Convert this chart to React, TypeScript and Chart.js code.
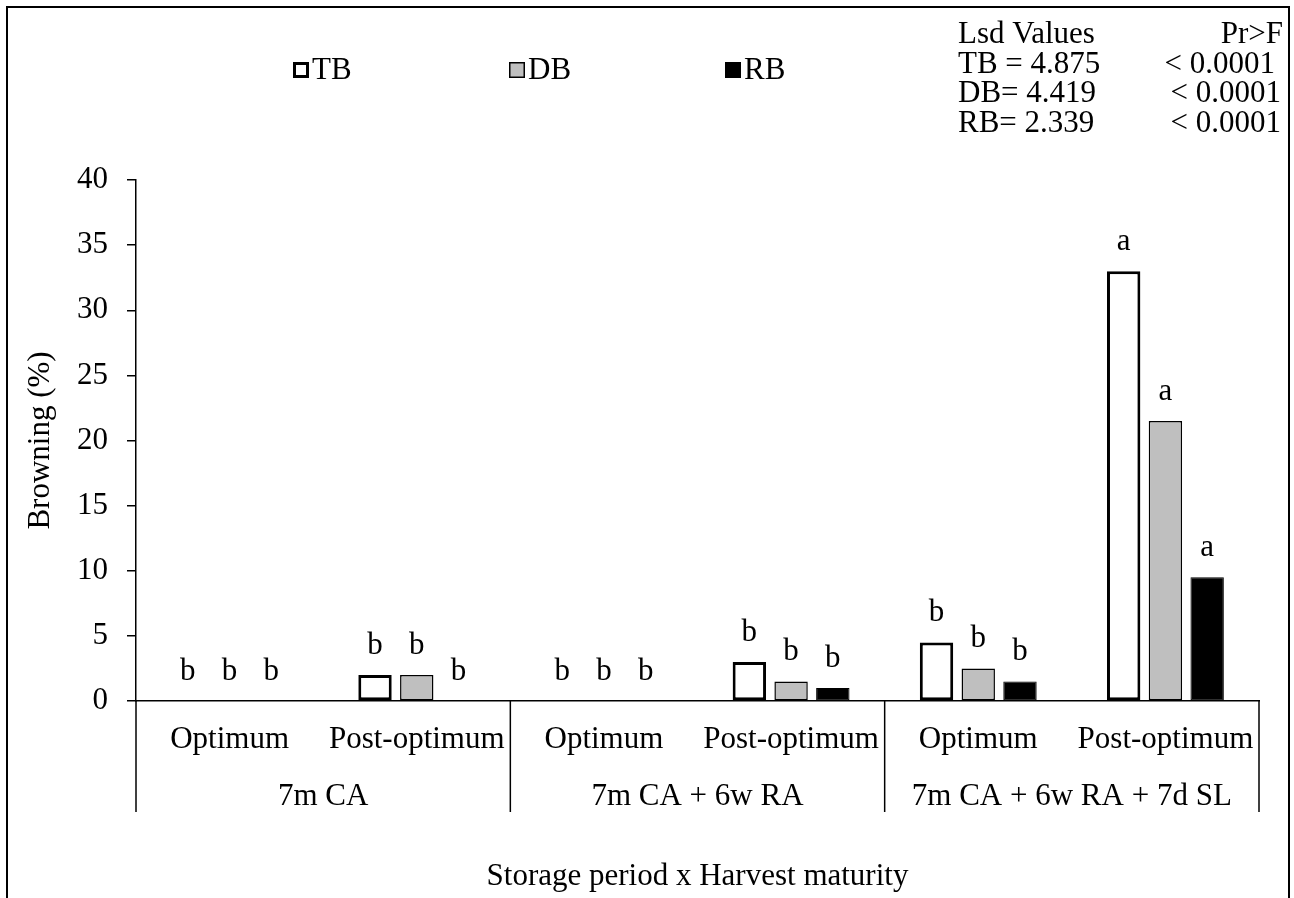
import React, { useEffect, useRef } from 'react';
import { Chart, registerables } from 'chart.js';

Chart.register(...registerables);

// ---- data ----
const categories = ['Optimum', 'Post-optimum', 'Optimum', 'Post-optimum', 'Optimum', 'Post-optimum'];
const groups = ['7m CA', '7m CA + 6w RA', '7m CA + 6w RA + 7d SL'];
const seriesNames = ['TB', 'DB', 'RB'];
const tbValues = [0, 2, 0, 3, 4.5, 33];
const dbValues = [0, 2, 0, 1.5, 2.5, 21.5];
const rbValues = [0, 0, 0, 1, 1.5, 9.5];
const tbLetters = ['b', 'b', 'b', 'b', 'b', 'a'];
const dbLetters = ['b', 'b', 'b', 'b', 'b', 'a'];
const rbLetters = ['b', 'b', 'b', 'b', 'b', 'a'];
const lsdHeader = ['Lsd Values', 'Pr>F'];
const lsdLabels = ['TB = 4.875', 'DB= 4.419', 'RB= 2.339'];
const pValues = ['< 0.0001', '< 0.0001', '< 0.0001'];
const yTitle = 'Browning (%)';
const xTitle = 'Storage period x Harvest maturity';

const FONT = '"Liberation Serif", "Times New Roman", serif';
const FS = 31;

const fills = ['#ffffff', '#bfbfbf', '#000000'];
const borders = [3, 1.5, 1];
const lettersBySeries = [tbLetters, dbLetters, rbLetters];

export default function App() {
  const ref = useRef<HTMLCanvasElement>(null);

  useEffect(() => {
    const canvas = ref.current;
    if (!canvas) return;

    const overlay = {
      id: 'overlay',
      afterDraw(chart: any) {
        const ctx = chart.ctx as CanvasRenderingContext2D;
        const area = chart.chartArea;
        const xs = chart.scales.x;
        ctx.save();
        ctx.fillStyle = '#000';
        ctx.strokeStyle = '#000';
        ctx.font = `${FS}px ${FONT}`;

        // outer frame
        ctx.lineWidth = 2;
        ctx.beginPath();
        ctx.moveTo(7, 898);
        ctx.lineTo(7, 7);
        ctx.lineTo(1289, 7);
        ctx.lineTo(1289, 898);
        ctx.stroke();

        // letters above bars
        ctx.textAlign = 'center';
        ctx.textBaseline = 'alphabetic';
        chart.data.datasets.forEach((_: any, di: number) => {
          const meta = chart.getDatasetMeta(di);
          meta.data.forEach((el: any, i: number) => {
            ctx.fillText(lettersBySeries[di][i], el.x, el.y - 21);
          });
        });

        // group separators + extended y axis
        const sepBottom = area.bottom + 111;
        ctx.lineWidth = 1.5;
        const bounds: number[] = [area.left];
        for (let g = 0; g < groups.length; g++) {
          const lastIdx = g * 2 + 1;
          const b = lastIdx < categories.length - 1
            ? (xs.getPixelForValue(lastIdx) + xs.getPixelForValue(lastIdx + 1)) / 2
            : area.right;
          bounds.push(b);
        }
        bounds.forEach((bx) => {
          ctx.beginPath();
          ctx.moveTo(bx, area.bottom);
          ctx.lineTo(bx, sepBottom);
          ctx.stroke();
        });

        // category labels
        categories.forEach((c, i) => {
          ctx.fillText(c, xs.getPixelForValue(i), area.bottom + 47);
        });
        // group labels
        groups.forEach((g, gi) => {
          ctx.fillText(g, (bounds[gi] + bounds[gi + 1]) / 2, area.bottom + 104);
        });
        // x title
        ctx.fillText(xTitle, (area.left + area.right) / 2, area.bottom + 184);

        // y title
        ctx.save();
        ctx.translate(49, (area.top + area.bottom) / 2);
        ctx.rotate(-Math.PI / 2);
        ctx.textAlign = 'center';
        ctx.fillText(yTitle, 0, 0);
        ctx.restore();

        // legend
        const legX = 293;
        const legPitch = 216;
        seriesNames.forEach((n, i) => {
          const bx = legX + i * legPitch;
          const by = 62;
          const sz = 16;
          ctx.fillStyle = fills[i];
          ctx.fillRect(bx, by, sz, sz);
          ctx.lineWidth = borders[i];
          ctx.strokeStyle = '#000';
          const h = borders[i] / 2;
          ctx.strokeRect(bx + h, by + h, sz - borders[i], sz - borders[i]);
          ctx.fillStyle = '#000';
          ctx.textAlign = 'left';
          ctx.fillText(n, bx + sz + 3, 79);
        });

        // LSD block
        ctx.textAlign = 'left';
        ctx.fillText(lsdHeader[0], 958, 43);
        ctx.textAlign = 'right';
        ctx.fillText(lsdHeader[1], 1283, 43);
        const rowY = [72.5, 102, 131.5];
        const pRight = [1275, 1281, 1281];
        lsdLabels.forEach((t, i) => {
          ctx.textAlign = 'left';
          ctx.fillText(t, 958, rowY[i]);
          ctx.textAlign = 'right';
          ctx.fillText(pValues[i], pRight[i], rowY[i]);
        });

        ctx.restore();
      },
    };

    const chart = new Chart(canvas, {
      type: 'bar',
      data: {
        labels: categories,
        datasets: [
          {
            label: seriesNames[0],
            data: tbValues,
            backgroundColor: fills[0],
            borderColor: '#000',
            borderWidth: borders[0],
            borderSkipped: false,
          },
          {
            label: seriesNames[1],
            data: dbValues,
            backgroundColor: fills[1],
            borderColor: '#000',
            borderWidth: borders[1],
            borderSkipped: false,
          },
          {
            label: seriesNames[2],
            data: rbValues,
            backgroundColor: fills[2],
            borderColor: '#000',
            borderWidth: borders[2],
            borderSkipped: false,
          },
        ],
      },
      options: {
        responsive: false,
        animation: false,
        datasets: {
          bar: { categoryPercentage: 0.669, barPercentage: 0.8 },
        },
        layout: { padding: { left: 0, top: 180, right: 35, bottom: 0 } },
        plugins: {
          legend: { display: false },
          tooltip: { enabled: false },
          title: { display: false },
        },
        scales: {
          x: {
            type: 'category',
            grid: { display: false },
            ticks: { display: false },
            border: { display: true, color: '#000', width: 1.5 },
            afterFit(s: any) {
              s.height = 197;
            },
          },
          y: {
            min: 0,
            max: 40,
            ticks: {
              stepSize: 5,
              color: '#000',
              font: { family: FONT, size: FS },
              padding: 19,
            },
            grid: {
              drawOnChartArea: false,
              drawTicks: true,
              tickLength: 9,
              color: '#000',
              lineWidth: 1.5,
            },
            border: { display: true, color: '#000', width: 1.5 },
            afterFit(s: any) {
              s.width = 136;
            },
          },
        },
      },
      plugins: [overlay],
    } as any);

    return () => chart.destroy();
  }, []);

  return (
    <canvas
      ref={ref}
      width={1294}
      height={898}
      style={{ position: 'fixed', left: 0, top: 0, display: 'block' }}
    />
  );
}
